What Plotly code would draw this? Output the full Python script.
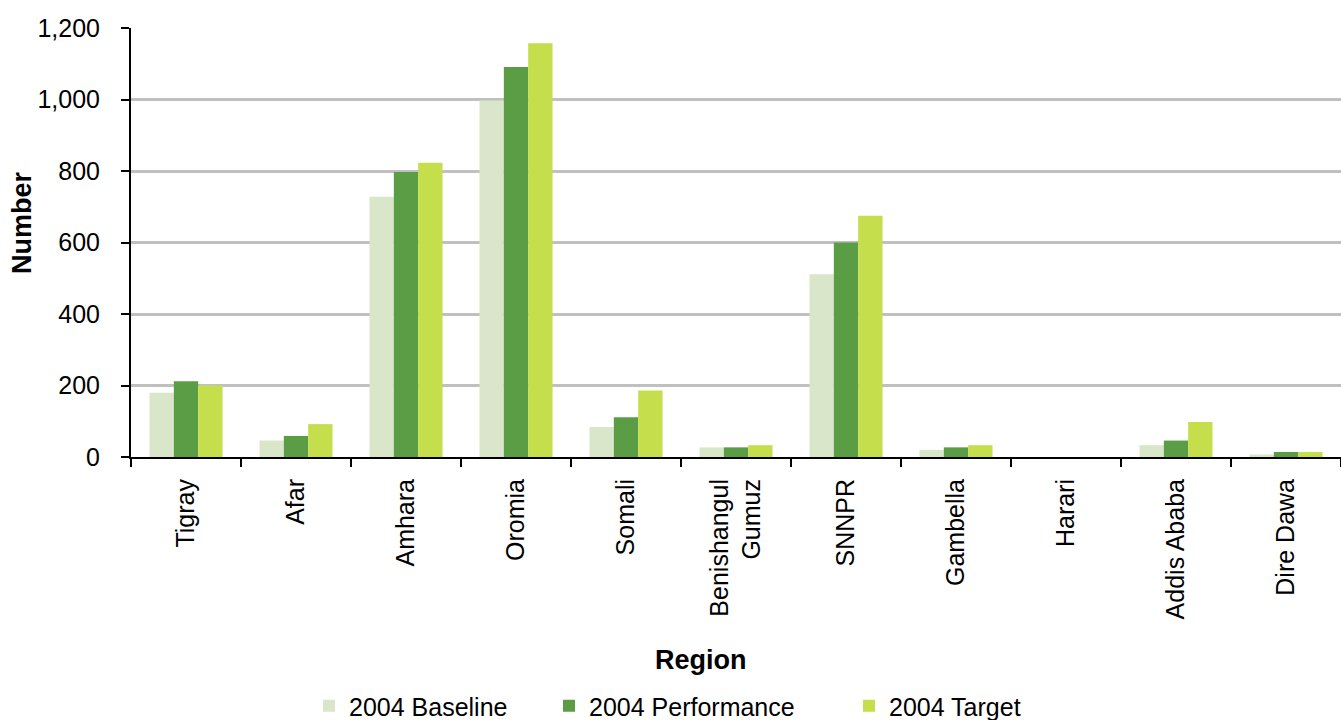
import plotly.graph_objects as go

# Regions and the three 2004 series
regions = ["Tigray", "Afar", "Amhara", "Oromia", "Somali", "Benishangul<br>Gumuz",
           "SNNPR", "Gambella", "Harari", "Addis Ababa", "Dire Dawa"]
baseline = [180, 46, 728, 997, 84, 27, 511, 20, 0, 33, 7]
performance = [212, 59, 797, 1091, 111, 27, 600, 27, 0, 46, 14]
target = [200, 92, 823, 1157, 186, 33, 675, 33, 0, 98, 14]

y_ticks = [0, 200, 400, 600, 800, 1000, 1200]
y_tick_text = ["0", "200", "400", "600", "800", "1,000", "1,200"]

FONT = "Liberation Sans, Arial, sans-serif"
W, H = 1341, 720
L, R, T, B = 131, 0, 28, 263
plot_w = W - L - R
plot_h = H - T - B


def px_x(px):
    return (px - L) / plot_w


def px_y(py):
    return (H - B - py) / plot_h


# name, values, colour, legend id, left pixel of the legend entry
series = [
    ("2004 Baseline", baseline, "#d9e6c9", "legend", 309),
    ("2004 Performance", performance, "#5a9d45", "legend2", 549),
    ("2004 Target", target, "#c4de4c", "legend3", 849),
]

fig = go.Figure()
legend_layout = {}
for name, vals, color, leg, left in series:
    fig.add_trace(go.Bar(
        name=name, x=regions, y=vals, legend=leg,
        marker=dict(color=color, line=dict(width=0)),
    ))
    legend_layout[leg] = dict(
        orientation="h", x=px_x(left), xref="paper", xanchor="left",
        y=px_y(706), yref="paper", yanchor="middle",
        font=dict(family=FONT, size=25, color="#000000"),
        bgcolor="rgba(0,0,0,0)", borderwidth=0,
    )

fig.update_layout(
    width=W, height=H,
    margin=dict(l=L, r=R, t=T, b=B, autoexpand=False),
    paper_bgcolor="white", plot_bgcolor="white",
    barmode="group", bargap=0.336, bargroupgap=0,
    font=dict(family=FONT, size=25, color="#000000"),
    showlegend=True,
    **legend_layout,
    annotations=[
        dict(text="<b>Region</b>", xref="paper", yref="paper",
             x=px_x(701), y=px_y(660), showarrow=False,
             font=dict(family=FONT, size=27, color="#000000"),
             xanchor="center", yanchor="middle"),
        dict(text="<b>Number</b>", xref="paper", yref="paper",
             x=px_x(22), y=px_y(223), showarrow=False, textangle=-90,
             font=dict(family=FONT, size=27, color="#000000"),
             xanchor="center", yanchor="middle"),
    ],
)

fig.update_xaxes(
    type="category", tickangle=-90, automargin=False,
    showline=True, linecolor="#000000", linewidth=2,
    ticks="outside", tickson="boundaries", ticklen=8, tickwidth=2, tickcolor="#000000",
    ticklabelstandoff=10,
    showgrid=False, zeroline=False,
    tickfont=dict(family=FONT, size=25, color="#000000"),
)
fig.update_yaxes(
    range=[0, 1200], tickvals=y_ticks, ticktext=y_tick_text, automargin=False,
    showline=True, linecolor="#000000", linewidth=2,
    ticks="outside", ticklen=8, tickwidth=2, tickcolor="#000000",
    ticklabelstandoff=16,
    showgrid=True, gridcolor="#c0c0c0", gridwidth=3,
    zeroline=False,
    tickfont=dict(family=FONT, size=25, color="#000000"),
)

fig.write_html("out.html")
